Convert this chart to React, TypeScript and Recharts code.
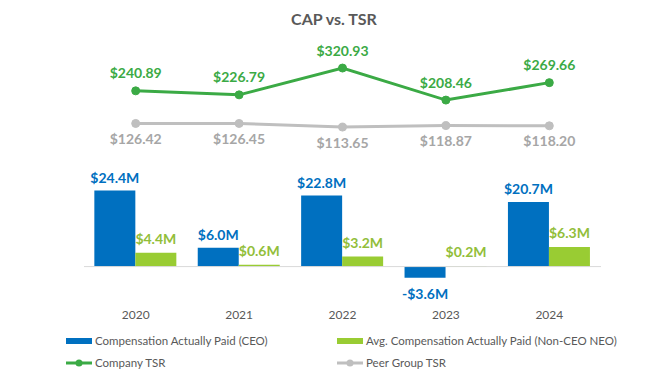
import {
  Bar,
  ComposedChart,
  LabelList,
  Legend,
  Line,
  ReferenceLine,
  XAxis,
  YAxis,
} from "recharts";

const YEARS = ["2020", "2021", "2022", "2023", "2024"];
const CAP_CEO = [24.4, 6.0, 22.8, -3.6, 20.7];
const CAP_NEO = [4.4, 0.6, 3.2, 0.2, 6.3];
const COMPANY_TSR = [240.89, 226.79, 320.93, 208.46, 269.66];
const PEER_TSR = [126.42, 126.45, 113.65, 118.87, 118.2];

const FONT = "Lato, 'Noto Sans', sans-serif";
const BLUE = "#0070C0";
const LIME = "#99CC33";
const LIME_TEXT = "#92BE3A";
const GREEN = "#3BAA45";
const GRAY = "#BFBFBF";
const GRAY_TEXT = "#A6A6A6";
const TEXT = "#595959";

const data = YEARS.map((year, i) => ({
  year,
  ceo: CAP_CEO[i],
  neo: CAP_NEO[i],
  company: COMPANY_TSR[i],
  peer: PEER_TSR[i],
}));

const money = (v: number) => (v < 0 ? `-$${Math.abs(v).toFixed(1)}M` : `$${v.toFixed(1)}M`);

function barLabel(color: string, gapAbove: number, gapBelow: number) {
  return (props: any) => {
    const { x, y, width, height, value } = props;
    const v = Number(value);
    const top = Math.min(y, y + height);
    const bottom = Math.max(y, y + height);
    const cy = v < 0 ? bottom + gapBelow : top - gapAbove;
    return (
      <text
        x={x + width / 2}
        y={cy}
        textAnchor="middle"
        dominantBaseline="central"
        fill={color}
        fontFamily={FONT}
        fontWeight="bold"
        fontSize={14}
      >
        {money(v)}
      </text>
    );
  };
}

function pointLabel(color: string, dy: number) {
  return (props: any) => {
    const { x, y, value } = props;
    return (
      <text
        x={x}
        y={y + dy}
        textAnchor="middle"
        dominantBaseline="central"
        fill={color}
        fontFamily={FONT}
        fontWeight="bold"
        fontSize={14}
      >
        ${Number(value).toFixed(2)}
      </text>
    );
  };
}

function LegendBox() {
  const item = (icon: React.ReactNode, label: string) => (
    <div style={{ display: "flex", alignItems: "center", height: 22, whiteSpace: "nowrap" }}>
      <svg width={29} height={10}>
        {icon}
      </svg>
      <span>{label}</span>
    </div>
  );
  const lineIcon = (c: string) => (
    <g>
      <line x1={0} x2={26} y1={5} y2={5} stroke={c} strokeWidth={3} />
      <circle cx={13} cy={5} r={3.5} fill={c} />
    </g>
  );
  return (
    <div
      style={{
        display: "grid",
        gridTemplateColumns: "271px 300px",
        fontFamily: FONT,
        fontSize: 11.5,
        color: TEXT,
        lineHeight: "22px",
      }}
    >
      {item(<rect x={0} y={2} width={26} height={6} fill={BLUE} />, "Compensation Actually Paid (CEO)")}
      {item(<rect x={0} y={2} width={26} height={6} fill={LIME} />, "Avg. Compensation Actually Paid (Non-CEO NEO)")}
      {item(lineIcon(GREEN), "Company TSR")}
      {item(lineIcon(GRAY), "Peer Group TSR")}
    </div>
  );
}

export default function App() {
  return (
    <div style={{ position: "absolute", left: 0, top: 0, width: 668, height: 378, background: "#fff" }}>
      <div
        style={{
          position: "absolute",
          top: 9,
          width: 668,
          textAlign: "center",
          fontFamily: FONT,
          fontWeight: "bold",
          fontSize: 16,
          color: TEXT,
        }}
      >
        CAP vs. TSR
      </div>
      <ComposedChart
        width={668}
        height={378}
        data={data}
        margin={{ top: 40, right: 67, left: 84, bottom: 53 }}
        barCategoryGap="10%"
        barGap={0}
      >
        <XAxis
          dataKey="year"
          axisLine={false}
          tickLine={false}
          tickSize={0}
          tickMargin={25}
          height={40}
          tick={{ fill: TEXT, fontSize: 12, fontFamily: FONT }}
        />
        <YAxis yAxisId="bar" hide domain={[-5.9, 72.6]} allowDataOverflow />
        <YAxis yAxisId="tsr" hide domain={[-440.4, 419.3]} allowDataOverflow />
        <ReferenceLine yAxisId="bar" y={0} stroke="#D9D9D9" strokeWidth={1} />
        <Bar yAxisId="bar" dataKey="ceo" fill={BLUE} isAnimationActive={false}>
          <LabelList dataKey="ceo" content={barLabel(BLUE, 13, 15.5)} />
        </Bar>
        <Bar yAxisId="bar" dataKey="neo" fill={LIME} isAnimationActive={false}>
          <LabelList dataKey="neo" content={barLabel(LIME_TEXT, 14, 14)} />
        </Bar>
        <Line
          yAxisId="tsr"
          dataKey="company"
          stroke={GREEN}
          strokeWidth={3}
          dot={{ r: 4, fill: GREEN, stroke: GREEN, strokeWidth: 1 }}
          activeDot={false}
          isAnimationActive={false}
        >
          <LabelList dataKey="company" content={pointLabel(GREEN, -18)} />
        </Line>
        <Line
          yAxisId="tsr"
          dataKey="peer"
          stroke={GRAY}
          strokeWidth={3}
          dot={{ r: 4, fill: GRAY, stroke: GRAY, strokeWidth: 1 }}
          activeDot={false}
          isAnimationActive={false}
        >
          <LabelList dataKey="peer" content={pointLabel(GRAY_TEXT, 15)} />
        </Line>
        <Legend
          layout="horizontal"
          align="center"
          verticalAlign="middle"
          wrapperStyle={{ top: 330, left: 66, bottom: "auto", width: 600 }}
          content={() => <LegendBox />}
        />
      </ComposedChart>
    </div>
  );
}
